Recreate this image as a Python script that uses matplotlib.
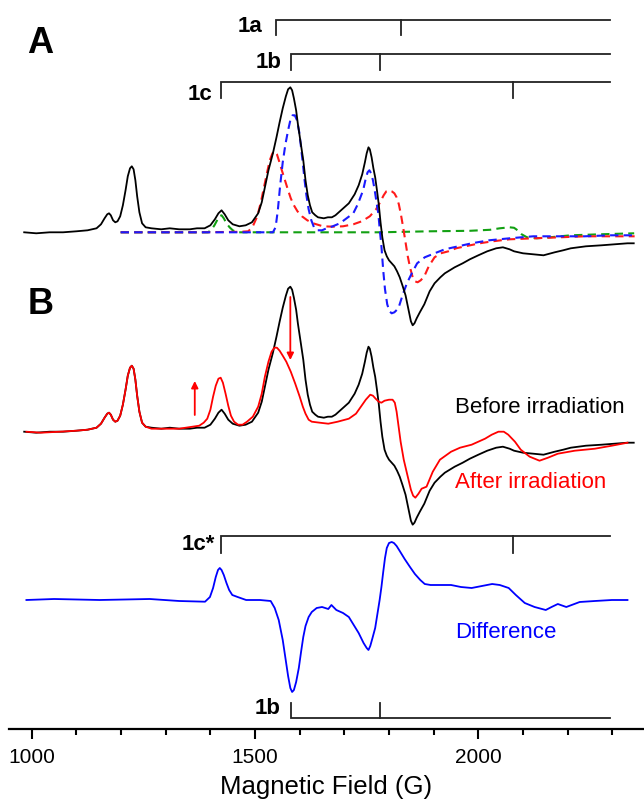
import matplotlib
matplotlib.use("Agg")
import matplotlib.pyplot as plt

plt.rcParams['font.family'] = ['Liberation Sans', 'DejaVu Sans']

# ---------------- data (field in G, intensity in arbitrary units) ----------------
before_field = [983, 1010, 1040, 1070, 1100, 1125, 1145, 1155, 1163, 1169, 1173, 1177, 1182, 1187,
                1192, 1198, 1204, 1210, 1215, 1220, 1224, 1228, 1232, 1236, 1241, 1247, 1255, 1268,
                1290, 1309, 1330, 1354, 1370, 1387, 1400, 1410, 1418, 1425, 1432, 1440, 1450, 1465,
                1479, 1493, 1507, 1515, 1522, 1530, 1540, 1548, 1555, 1562, 1569, 1574, 1579, 1583,
                1587, 1592, 1596, 1602, 1608, 1613, 1618, 1623, 1628, 1635, 1641, 1654, 1663, 1672,
                1680, 1690, 1700, 1710, 1723, 1732, 1740, 1746, 1750, 1754, 1757, 1761, 1765, 1769,
                1773, 1777, 1781, 1785, 1790, 1795, 1800, 1806, 1812, 1818, 1824, 1830, 1837, 1844,
                1849, 1853, 1857, 1862, 1869, 1879, 1891, 1902, 1915, 1925, 1947, 1965, 1981, 2000,
                2020, 2040, 2055, 2070, 2080, 2100, 2122, 2146, 2171, 2190, 2207, 2241, 2276, 2306,
                2334, 2348]
before_int = [0, -1, 0, 0, 1, 2, 4, 8, 14, 18, 19, 17, 12, 10,
              11, 16, 27, 42, 56, 64, 66, 63, 52, 36, 20, 9, 5, 4,
              3, 4, 3, 3, 4, 4, 7, 13, 19, 22, 18, 12, 8, 6,
              7, 10, 19, 30, 45, 62, 79, 95, 110, 124, 136, 143, 145, 142,
              134, 122, 108, 90, 72, 52, 37, 27, 20, 17, 15, 14, 15, 15,
              17, 21, 25, 29, 38, 47, 58, 70, 79, 85, 83, 75, 64, 55,
              42, 28, 10, -5, -18, -24, -28, -31, -34, -39, -45, -53, -63, -78,
              -89, -93, -91, -86, -80, -72, -59, -51, -45, -41, -35, -31, -27, -23,
              -19, -16, -15, -17, -19, -21, -22, -23, -20, -18, -16, -14, -13, -12,
              -11, -11]

simA_red_field = [1199, 1376, 1466, 1485, 1495, 1505, 1513, 1520, 1527, 1533, 1539, 1544, 1549, 1554,
                  1560, 1567, 1574, 1580, 1587, 1595, 1605, 1617, 1630, 1652, 1675, 1697, 1720, 1739,
                  1757, 1771, 1780, 1788, 1794, 1800, 1806, 1812, 1817, 1822, 1827, 1832, 1837, 1842,
                  1847, 1853, 1858, 1864, 1871, 1879, 1889, 1902, 1916, 1933, 1950, 1971, 2003, 2032,
                  2070, 2124, 2183, 2239, 2294, 2350]
simA_red_int = [0, 0, 0.5, 1, 6, 16, 30, 45, 60, 72, 79, 81, 78, 71,
                62, 52, 42, 34, 27, 21, 16, 12, 9, 6, 5.6, 6, 8, 11,
                16, 23, 30, 37, 41, 42, 41, 39, 35, 28, 17, 4, -10, -24,
                -35, -45, -49, -50, -48, -44, -34, -25, -21, -19, -16, -14, -11, -9,
                -7, -6, -5, -4, -4, -4]

simA_blue_field = [1199, 1540, 1546, 1551, 1556, 1562, 1568, 1574, 1579, 1584, 1589, 1594, 1599, 1603,
                   1607, 1611, 1615, 1620, 1626, 1632, 1640, 1650, 1660, 1674, 1690, 1705, 1720, 1730,
                   1742, 1747, 1752, 1756, 1760, 1764, 1768, 1772, 1776, 1779, 1783, 1787, 1791, 1796,
                   1801, 1806, 1812, 1821, 1831, 1840, 1851, 1863, 1880, 1902, 1925, 1955, 1985, 2024,
                   2070, 2123, 2183, 2238, 2294, 2348]
simA_blue_int = [0, 0, 5, 22, 46, 70, 88, 102, 112, 117, 117, 112, 100, 85,
                 69, 52, 37, 23, 12, 5, 2, 2, 4, 6, 9, 14, 19, 28,
                 42, 52, 60, 62, 59, 52, 42, 30, 19, 4, -14, -38, -57, -72,
                 -79, -81, -80, -76, -62, -51, -41, -31, -25, -21, -17, -14, -11, -8,
                 -6, -4, -4, -4, -3, -3]

simA_green_field = [1199, 1395, 1403, 1409, 1415, 1420, 1425, 1430, 1436, 1443, 1450, 1460, 1779, 1891,
                    1981, 2026, 2048, 2070, 2080, 2088, 2097, 2109, 2131, 2160, 2207, 2272, 2349]
simA_green_int = [0, 0, 3, 7, 12, 16, 17, 14, 9, 5, 2, 0, 0, 1,
                  1.5, 2.5, 4, 5, 4.5, 2, -2, -5, -6, -5, -3, -2, -1]

after_field = [988, 1020, 1063, 1100, 1125, 1145, 1155, 1163, 1169, 1173, 1177, 1182, 1187, 1192,
               1198, 1204, 1210, 1215, 1220, 1224, 1228, 1232, 1236, 1241, 1247, 1255, 1268, 1300,
               1330, 1360, 1375, 1385, 1393, 1400, 1406, 1412, 1418, 1423, 1428, 1434, 1440, 1446,
               1453, 1462, 1472, 1482, 1495, 1507, 1515, 1522, 1530, 1537, 1543, 1549, 1555, 1562,
               1570, 1580, 1590, 1600, 1607, 1613, 1620, 1627, 1645, 1664, 1685, 1710, 1726, 1737,
               1748, 1758, 1764, 1770, 1777, 1783, 1790, 1800, 1808, 1813, 1817, 1820, 1826, 1833,
               1842, 1849, 1854, 1859, 1866, 1873, 1884, 1898, 1914, 1939, 1959, 1985, 2015, 2030,
               2045, 2057, 2067, 2082, 2095, 2115, 2137, 2156, 2178, 2216, 2261, 2299, 2334]
after_int = [0, -1, 0, 1, 2, 4, 8, 14, 18, 19, 17, 12, 10, 11,
             16, 27, 42, 56, 64, 66, 63, 52, 36, 20, 9, 5, 3, 3,
             3, 5, 6, 9, 13, 22, 35, 46, 53, 54, 49, 38, 26, 16,
             10, 7, 7, 10, 15, 25, 38, 55, 70, 80, 84, 84, 81, 76,
             70, 60, 48, 35, 25, 18, 12, 10, 9, 8, 10, 13, 18, 25,
             32, 37, 36, 33, 30, 29, 31, 32, 32, 29, 20, 10, -10, -28,
             -45, -58, -64, -66, -62, -57, -55, -40, -28, -20, -16, -13, -7, -3,
             0, 0, -3, -10, -18, -25, -29, -26, -22, -19, -17, -14, -11]

diff_field = [988, 1050, 1152, 1264, 1330, 1388, 1399, 1406, 1412, 1417, 1421, 1425, 1430, 1436,
              1442, 1449, 1461, 1480, 1511, 1535, 1544, 1553, 1562, 1568, 1574, 1579, 1583, 1587,
              1592, 1598, 1603, 1608, 1613, 1620, 1627, 1638, 1650, 1664, 1671, 1682, 1697, 1710,
              1721, 1732, 1743, 1750, 1754, 1758, 1763, 1769, 1774, 1779, 1783, 1787, 1791, 1795,
              1800, 1806, 1811, 1817, 1824, 1835, 1847, 1858, 1870, 1880, 1893, 1914, 1939, 1961,
              1985, 2008, 2031, 2048, 2068, 2084, 2104, 2126, 2151, 2164, 2178, 2197, 2227, 2261,
              2299, 2334]
diff_int = [0, 1, 0, 1, -1, -1.7, 3, 12, 23, 30, 32, 30, 25, 17,
            10, 5, 3, 0, 0, -1, -8, -20, -40, -58, -76, -88, -92, -90,
            -82, -68, -52, -37, -26, -17, -12, -8, -7, -9, -5, -10, -13, -17,
            -25, -33, -43, -48, -50, -46, -38, -28, -14, 0, 13, 28, 42, 52,
            57, 58, 57, 54, 49, 41, 33, 26, 20, 16, 15, 15, 15, 13,
            12, 14, 16, 15, 12, 5, -3, -7, -10, -7, -4, -7, -2, -1,
            0, 0]

# stick diagrams: [start, inner tick, end] in G
stick_1a = [1546, 1826, 2295]
stick_1b = [1581, 1780, 2295]
stick_1c = [1423, 2077, 2295]

tick_major = [1000, 1500, 2000]
tick_labels = ['1000', '1500', '2000']

# ---------------- layout ----------------
fig = plt.figure(figsize=(6.44, 8.09), dpi=100)
ax = fig.add_axes([9/644, 80/809, 635/644, 729/809])
ax.set_xlim(949, 2371)
ax.set_ylim(0, 729)

offA, offB, offD = 496.7, 297.3, 129.0

dash = (0, (4, 2.5))
ax.plot(simA_green_field, [v + offA for v in simA_green_int], color='#12a012', lw=1.5, ls=dash)
ax.plot(simA_red_field, [v + offA for v in simA_red_int], color='#ff1a1a', lw=1.5, ls=dash)
ax.plot(simA_blue_field, [v + offA for v in simA_blue_int], color='#1a1aff', lw=1.5, ls=dash)
ax.plot(before_field, [v + offA for v in before_int], color='black', lw=1.3)

ax.plot(before_field, [v + offB for v in before_int], color='black', lw=1.3)
ax.plot(after_field, [v + offB for v in after_int], color='#ff0000', lw=1.3)

ax.plot(diff_field, [v + offD for v in diff_int], color='#0000ff', lw=1.3)

def stick(vals, y, h, label, lx, ly):
    s, m, e = vals
    ax.plot([s, s, e], [y + h, y, y], color='#222222', lw=1.3, solid_joinstyle='miter')
    ax.plot([m, m], [y, y + h], color='#222222', lw=1.3)
    ax.text(lx, ly, label, ha='right', va='center', fontsize=16, fontweight='bold')

stick(stick_1a, 709, -15, '1a', 1517, 703)
stick(stick_1b, 675, -16, '1b', 1560, 667)
stick(stick_1c, 647, -16, '1c', 1405, 635)
stick(stick_1c, 193, -17, '1c*', 1410, 184)
stick(stick_1b, 11, 15, '1b', 1558, 21)

ax.text(1018, 686, 'A', ha='center', va='center', fontsize=26, fontweight='bold')
ax.text(1020, 425, 'B', ha='center', va='center', fontsize=26, fontweight='bold')

ax.text(1948, 322, 'Before irradiation', color='black', fontsize=16, va='center', ha='left')
ax.text(1948, 246, 'After irradiation', color='#ff0000', fontsize=16, va='center', ha='left')
ax.text(1948, 96, 'Difference', color='#0000ff', fontsize=16, va='center', ha='left')

ax.annotate('', xy=(1365, 348), xytext=(1365, 314),
            arrowprops=dict(arrowstyle='-|>', color='#ff0000', lw=1.3, mutation_scale=10,
                            shrinkA=0, shrinkB=0))
ax.annotate('', xy=(1579, 369), xytext=(1579, 432),
            arrowprops=dict(arrowstyle='-|>', color='#ff0000', lw=1.3, mutation_scale=10,
                            shrinkA=0, shrinkB=0))

for sp in ['top', 'right', 'left']:
    ax.spines[sp].set_visible(False)
ax.spines['bottom'].set_linewidth(1.6)
ax.set_yticks([])
ax.set_xticks(tick_major)
ax.set_xticklabels(tick_labels)
ax.set_xticks(range(1100, 2400, 100), minor=True)
ax.tick_params(axis='x', which='major', length=7.5, width=1.5, direction='out', labelsize=15, pad=6)
ax.tick_params(axis='x', which='minor', length=4, width=1.5, direction='out')
ax.set_xlabel('Magnetic Field (G)', fontsize=18.5, labelpad=6)

fig.savefig('out.png', dpi=100)
